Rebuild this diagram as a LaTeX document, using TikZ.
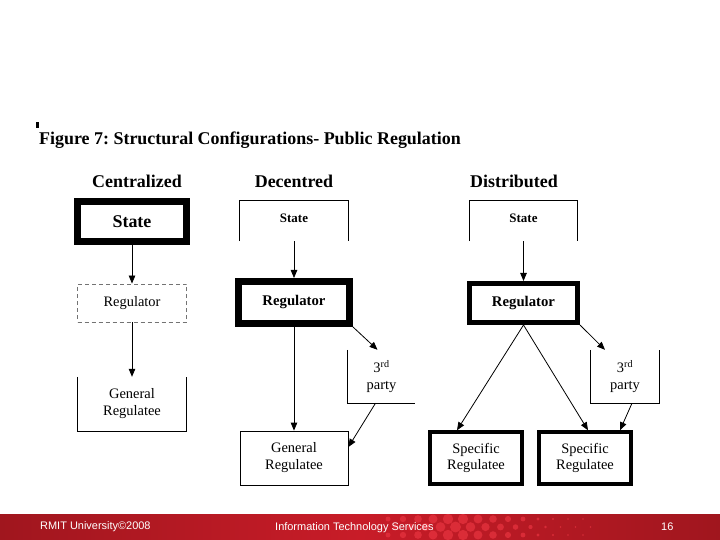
\documentclass[tikz,border=0pt]{standalone}
\usepackage{fontspec}
\setmainfont{Liberation Serif}
\newfontfamily\footfont{Liberation Sans}
\usetikzlibrary{arrows.meta,calc}
\frenchspacing
\definecolor{bandred}{RGB}{200,28,40}
\definecolor{banddark}{RGB}{160,22,30}
\definecolor{dotred}{RGB}{232,52,64}
\begin{document}
\begin{tikzpicture}[x=1bp,y=-1bp,
  sz/.style 2 args={minimum width=#1bp, minimum height=#2bp, inner sep=0pt, align=center},
  heavy/.style={draw=black, line width=7bp},
  medium/.style={draw=black, line width=5bp},
  boldish/.style={draw=black, line width=3.5bp},
  thin/.style={draw=black, line width=0.8bp},
  dashbox/.style={draw=black!55, line width=0.9bp, dash pattern=on 4bp off 3bp},
  txt/.style={font=\fontsize{14.5}{17}\selectfont},
  btxt/.style={font=\bfseries\fontsize{14.8}{17}\selectfont},
  stxt/.style={font=\bfseries\fontsize{13}{15}\selectfont},
  head/.style={font=\bfseries\fontsize{18}{20}\selectfont},
  side/.style={line width=0.8bp},
  arr/.style={-{Triangle[length=8bp,width=6.5bp]}, line width=0.8bp},
  foot/.style={font=\footfont\fontsize{11}{13}\selectfont, text=white, inner sep=0pt}
]
\useasboundingbox (0,0) rectangle (720,540);
\fill[white] (0,0) rectangle (720,540);

% footer band
\shade[left color=banddark, right color=banddark, middle color=bandred] (0,514) rectangle (720,540);
\begin{scope}
\clip (0,514) rectangle (720,540);
\foreach \i in {0,...,13} {
  \foreach \j in {0,1,2} {
    \pgfmathsetmacro{\cx}{388+\i*15+mod(\j,2)*7.5}
    \pgfmathsetmacro{\cy}{519+\j*8}
    \pgfmathsetmacro{\r}{max(0.8,5.5-abs(\cx-455)/22)}
    \fill[dotred, opacity=0.7] (\cx,\cy) circle (\r);
  }
}
\end{scope}
\node[foot, anchor=west] (f1) at (40,527) {RMIT University©2008};
\node[foot, anchor=west] (f2) at (275,528) {Information Technology Services};
\node[foot, anchor=west] (f3) at (661,527) {16};

% title
\fill[black] (36,122) rectangle (38.5,128);
\node[font=\bfseries\fontsize{18}{20}\selectfont, anchor=west, inner sep=0pt] (title) at (39,140) {Figure 7: Structural Configurations- Public Regulation};

% headers
\node[head] (h1) at (137,181) {Centralized};
\node[head] (h2) at (294,181) {Decentred};
\node[head] (h3) at (514,181) {Distributed};

% ---------- Centralized ----------
\node[sz={109}{40}, heavy, font=\bfseries\fontsize{18}{20}\selectfont] (cstate) at (132,221.5) {State};
\node[sz={109}{38}, dashbox, txt] (creg) at (132,303) {\raisebox{3bp}{Regulator}};
\node[sz={108}{54}, txt] (cgr) at (132,404) {General\\Regulatee};
\draw[side] (cgr.north west) -- (cgr.south west) -- (cgr.south east) -- (cgr.north east);

% ---------- Decentred ----------
\node[sz={108}{40}, stxt] (dstate) at (294,221) {\raisebox{5bp}{State}};
\draw[side] (dstate.south west) -- (dstate.north west) -- (dstate.north east) -- (dstate.south east);
\node[sz={111}{42}, heavy, btxt] (dreg) at (294,302.5) {Regulator};
\node[sz={67}{53}, txt] (dthird) at (381.5,376.5) {3\textsuperscript{rd}\\party};
\draw[side] (dthird.north west) -- (dthird.south west) -- (dthird.south east);
\node[sz={108}{54}, thin, txt] (dgr) at (294,458) {General\\Regulatee};

% ---------- Distributed ----------
\node[sz={108}{40}, stxt] (distate) at (523.5,221) {\raisebox{5bp}{State}};
\draw[side] (distate.south west) -- (distate.north west) -- (distate.north east) -- (distate.south east);
\node[sz={108}{39}, medium, btxt] (direg) at (523.5,303) {Regulator};
\node[sz={68}{53}, txt] (dithird) at (625,376.5) {3\textsuperscript{rd}\\party};
\draw[side] (dithird.north west) -- (dithird.south west) -- (dithird.south east) -- (dithird.north east);
\node[sz={92}{52}, boldish, txt] (sr1) at (476,458) {Specific\\Regulatee};
\node[sz={92}{52}, boldish, txt] (sr2) at (585,458) {Specific\\Regulatee};

% ---------- connectors ----------
\draw[arr] (cstate.south) -- (creg.north);
\draw[arr] (creg.south) -- (cgr.north);

\draw[arr] (dstate.south) -- (dreg.north);
\draw[arr] (dreg.south) -- (dgr.north);
\draw[arr] (dreg.south east) -- ([xshift=-4bp]dthird.north);
\draw[arr] ([xshift=-6bp]dthird.south) -- ([yshift=11bp]dgr.east);

\draw[arr] (distate.south) -- (direg.north);
\draw[arr] (direg.south) -- ([xshift=-19bp]sr1.north);
\draw[arr] (direg.south) -- ([xshift=3bp]sr2.north);
\draw[arr] (direg.south east) -- ([xshift=-20bp]dithird.north);
\draw[arr] ([xshift=7bp]dithird.south) -- ([xshift=35bp]sr2.north);
\end{tikzpicture}
\end{document}
